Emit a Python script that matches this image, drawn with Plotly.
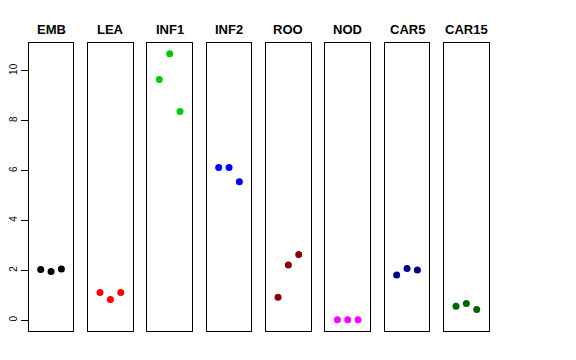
import plotly.graph_objects as go

categories = ["EMB", "LEA", "INF1", "INF2", "ROO", "NOD", "CAR5", "CAR15"]
replicates = [1, 2, 3]
values = {
    "EMB":   [2.04, 1.96, 2.06],
    "LEA":   [1.12, 0.83, 1.12],
    "INF1":  [9.65, 10.69, 8.37],
    "INF2":  [6.13, 6.13, 5.55],
    "ROO":   [0.92, 2.22, 2.64],
    "NOD":   [0.02, 0.02, 0.02],
    "CAR5":  [1.82, 2.08, 2.02],
    "CAR15": [0.56, 0.67, 0.43],
}
colors = ["#000000", "#FF0000", "#00CD00", "#0000FF", "#8B0000", "#FF00FF", "#00008B", "#006400"]
y_ticks = [0, 2, 4, 6, 8, 10]

W, H = 576, 360
left0 = 28.7
panel_w = 44.7
period = 59.33
top_px, bot_px = 42.7, 331.0

fig = go.Figure()
for i, cat in enumerate(categories):
    n = "" if i == 0 else str(i + 1)
    x0 = left0 + i * period
    x1 = x0 + panel_w
    fig.add_trace(go.Scatter(
        x=replicates, y=values[cat], mode="markers",
        marker=dict(color=colors[i], size=7, line=dict(width=0)),
        xaxis="x" + n, yaxis="y" + n, showlegend=False, hoverinfo="y",
    ))
    fig.layout["xaxis" + n] = dict(
        domain=[x0 / W, x1 / W], range=[-0.16, 4.16], showgrid=False, zeroline=False,
        showticklabels=False, ticks="", showline=True, mirror=True, automargin=False,
        linecolor="#000000", linewidth=1, anchor="y" + n,
    )
    yax = dict(
        domain=[(H - bot_px) / H, (H - top_px) / H], range=[-0.428, 11.128],
        showgrid=False, zeroline=False, showline=True, mirror=True, automargin=False,
        linecolor="#000000", linewidth=1, anchor="x" + n,
    )
    if i == 0:
        yax.update(tickvals=y_ticks, ticktext=[str(v) for v in y_ticks], ticks="outside",
                   ticklen=7, tickcolor="#000000", tickangle=-90,
                   tickfont=dict(family="Liberation Sans, Arial, sans-serif", size=10, color="#000000"))
    else:
        yax.update(showticklabels=False, ticks="")
    fig.layout["yaxis" + n] = yax
    fig.add_annotation(
        x=(x0 + x1) / 2 / W, y=(H - 29.3) / H, xref="paper", yref="paper",
        text="<b>" + cat + "</b>", showarrow=False, xanchor="center", yanchor="middle",
        font=dict(family="Liberation Sans, Arial, sans-serif", size=13, color="#000000"),
    )

fig.update_layout(
    width=W, height=H, margin=dict(l=0, r=0, t=0, b=0, autoexpand=False),
    paper_bgcolor="white", plot_bgcolor="white",
)
fig.write_html("out.html", config={"displayModeBar": False},
               post_script="document.body.style.margin='0';document.body.style.padding='0';")
